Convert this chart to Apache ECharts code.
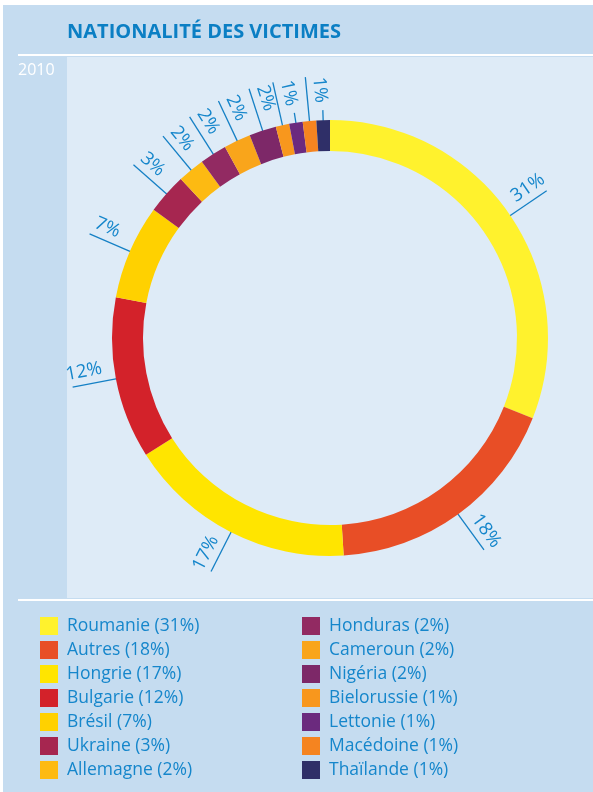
<!DOCTYPE html>
<html>
<head>
<meta charset="utf-8">
<script src="https://cdn.jsdelivr.net/npm/echarts@6/dist/echarts.min.js"></script>
<style>
html, body { margin: 0; padding: 0; background: #fff; }
#chart { width: 593px; height: 792px; }
</style>
</head>
<body>
<div id="chart"></div>
<script>
// données
var countries = ['Roumanie', 'Autres', 'Hongrie', 'Bulgarie', 'Brésil', 'Ukraine', 'Allemagne',
    'Honduras', 'Cameroun', 'Nigéria', 'Bielorussie', 'Lettonie', 'Macédoine', 'Thaïlande'];
var shares = [31, 18, 17, 12, 7, 3, 2, 2, 2, 2, 1, 1, 1, 1];
var sliceColors = ['#fff22d', '#e84e26', '#ffe500', '#d3222a', '#ffd100', '#a62650', '#fdba12',
    '#922a62', '#f9a51b', '#7d2868', '#f8971d', '#6b2a7e', '#f58420', '#2f2f68'];
var showPct = [true, true, true, true, true, true, true, true, true, true, true, false, true, false];

var blue = '#1586cb';
var ctr = [330, 338];
var font = 'Open Sans';

var myChart = echarts.init(document.getElementById('chart'));

function legendFmt(name) {
    return name + ' (' + shares[countries.indexOf(name)] + '%)';
}

function legendBlock(names, left) {
    return {
        data: names,
        orient: 'vertical',
        left: left,
        top: 617,
        padding: 0,
        icon: 'rect',
        itemWidth: 18,
        itemHeight: 18,
        itemGap: 6,
        selectedMode: false,
        formatter: legendFmt,
        textStyle: { color: blue, fontSize: 17.5, fontFamily: font, padding: [0, 0, 0, 4] }
    };
}

var option = {
    animation: false,
    title: [
        {
            text: 'NATIONALITÉ DES VICTIMES',
            left: 67, top: 22, padding: 0,
            textStyle: { color: '#0b7fc4', fontSize: 20, fontWeight: 'bold', fontFamily: font }
        },
        {
            text: '2010',
            left: 18, top: 62, padding: 0,
            textStyle: { color: '#fff', fontSize: 16, fontWeight: 'normal', fontFamily: font }
        }
    ],
    graphic: [
        { type: 'rect', z: -10, shape: { x: 3, y: 5, width: 590, height: 787 }, style: { fill: '#c5dcf0' } },
        { type: 'rect', z: -9, shape: { x: 67, y: 57, width: 526, height: 541 }, style: { fill: '#deebf7' } },
        { type: 'rect', z: -8, shape: { x: 18, y: 54, width: 575, height: 2 }, style: { fill: '#fff' } },
        { type: 'rect', z: -8, shape: { x: 18, y: 599, width: 575, height: 2 }, style: { fill: '#fff' } }
    ],
    legend: [legendBlock(countries.slice(0, 7), 40), legendBlock(countries.slice(7), 302)],
    series: [
        // anneau
        {
            type: 'pie',
            center: ctr,
            radius: [187, 218],
            startAngle: 90,
            clockwise: true,
            silent: true,
            label: { show: false },
            labelLine: { show: false },
            data: countries.map(function (n, i) {
                return { name: n, value: shares[i], itemStyle: { color: sliceColors[i] } };
            })
        },
        // traits
        {
            type: 'pie',
            center: ctr,
            radius: [0, 206],
            startAngle: 90,
            clockwise: true,
            silent: true,
            avoidLabelOverlap: false,
            labelLayout: { hideOverlap: false },
            itemStyle: { color: 'rgba(0,0,0,0)' },
            label: { show: true, position: 'outside', formatter: '.', fontSize: 1, color: 'rgba(0,0,0,0)', distanceToLabelLine: 0 },
            labelLine: { show: true, length2: 0, lineStyle: { color: '#1580c5', width: 1.3 } },
            data: countries.map(function (n, i) {
                return { name: n, value: shares[i], labelLine: { length: showPct[i] ? 56 : 22 } };
            })
        },
        // pourcentages (2e ligne vide pour décaler le texte au-dessus du trait)
        {
            type: 'pie',
            center: ctr,
            radius: [223, 267],
            startAngle: 90,
            clockwise: true,
            silent: true,
            avoidLabelOverlap: false,
            labelLayout: { hideOverlap: false },
            itemStyle: { color: 'rgba(0,0,0,0)' },
            label: {
                show: true,
                position: 'inside',
                rotate: 'radial',
                formatter: '{c}%\n ',
                color: blue,
                fontSize: 18.5,
                lineHeight: 26,
                fontFamily: font
            },
            labelLine: { show: false },
            data: countries.map(function (n, i) {
                return { name: n, value: shares[i], label: { show: showPct[i] } };
            })
        }
    ]
};
myChart.setOption(option);
</script>
</body>
</html>
